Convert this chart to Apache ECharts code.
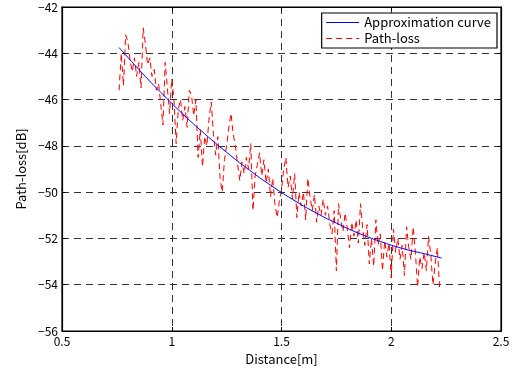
<!DOCTYPE html>
<html>
<head>
<meta charset="utf-8">
<script src="https://cdn.jsdelivr.net/npm/echarts@6/dist/echarts.min.js"></script>
<style>html,body{margin:0;padding:0;background:#fff}#c{width:516px;height:377px}</style>
</head>
<body>
<div id="c"></div>
<script>
// Approximation curve
const curveDist = [0.76,0.85,0.95,1.05,1.15,1.25,1.35,1.45,1.55,1.65,1.75,1.85,1.95,2.05,2.15,2.23];
const curveVal  = [-43.75,-44.70,-45.69,-46.62,-47.48,-48.28,-49.02,-49.70,-50.31,-50.86,-51.34,-51.77,-52.13,-52.43,-52.66,-52.85];

const lossDist = [0.76,0.77,0.78,0.79,0.80,0.81,0.82,0.83,0.84,0.85,0.86,0.87,0.88,0.89,0.90,0.91,0.92,0.93,0.94,0.95,0.96,0.97,0.98,0.99,
1.00,1.01,1.02,1.03,1.04,1.05,1.06,1.07,1.08,1.09,1.10,1.11,1.12,1.13,1.14,1.15,1.16,1.17,1.18,1.19,1.20,1.21,1.22,1.23,1.24,1.25,1.26,1.27,1.28,1.29,
1.30,1.31,1.32,1.33,1.34,1.35,1.36,1.37,1.38,1.39,1.40,1.41,1.42,1.43,1.44,1.45,1.46,1.47,1.48,1.49,1.50,
1.51,1.52,1.53,1.54,1.55,1.56,1.57,1.58,1.59,1.60,1.61,1.62,1.63,1.64,1.65,1.66,1.67,1.68,1.69,1.70,1.71,1.72,1.73,1.74,1.75,1.76,1.77,1.78,1.79,1.80,
1.81,1.82,1.83,1.84,1.85,1.86,1.87,1.88,1.89,1.90,1.91,1.92,1.93,1.94,1.95,1.96,1.97,1.98,1.99,2.00,
2.01,2.02,2.03,2.04,2.05,2.06,2.07,2.08,2.09,2.10,2.11,2.12,2.13,2.14,2.15,2.16,2.17,2.18,2.19,2.20,2.21,2.22,2.23];
const lossVal = [-45.6,-44.0,-45.4,-43.2,-43.5,-44.3,-44.8,-44.2,-45.0,-44.4,-45.5,-42.9,-43.6,-44.5,-44.2,-45.0,-44.7,-45.6,-45.3,-46.2,-47.1,-44.4,-45.5,-46.6,
-45.1,-46.0,-47.9,-46.4,-46.0,-46.9,-46.3,-47.2,-45.6,-45.8,-46.7,-46.0,-48.5,-47.3,-48.9,-47.6,-48.0,-46.8,-46.1,-47.5,-48.4,-47.6,-49.4,-50.0,-48.6,-48.0,-47.2,-46.6,-47.5,-48.0,
-48.8,-49.5,-48.7,-49.2,-48.5,-49.0,-47.9,-50.8,-49.3,-48.8,-48.3,-49.3,-48.6,-49.6,-49.0,-50.2,-49.4,-50.5,-51.1,-50.4,-49.9,
-49.0,-48.5,-49.8,-49.3,-50.3,-49.2,-51.1,-50.0,-50.6,-50.0,-51.2,-49.4,-50.2,-50.8,-50.1,-51.3,-50.6,-51.0,-50.3,-51.0,-50.6,-51.4,-51.8,-50.8,-53.4,-50.5,-51.2,-51.7,-50.9,-51.6,
-52.4,-51.3,-51.9,-51.2,-52.2,-50.5,-51.6,-52.3,-51.4,-53.1,-52.0,-53.2,-51.2,-52.3,-51.8,-53.4,-52.1,-52.8,-52.2,-53.7,
-51.6,-52.6,-52.0,-52.9,-52.3,-53.6,-51.5,-52.4,-52.9,-51.5,-52.6,-54.1,-52.8,-53.3,-52.6,-53.4,-51.9,-52.7,-54.0,-53.1,-52.4,-54.1,-54.2];

const xTicks = [0.5, 1, 1.5, 2, 2.5];
const yTicks = [-56, -54, -52, -50, -48, -46, -44, -42];

const FONT = '"Noto Sans CJK JP", "Noto Sans", sans-serif';
const fmtNeg = v => String(v).replace('-', '\u2212');
const gridLine = {show: true, lineStyle: {color: '#333', type: [7, 5], width: 1}};

const chart = echarts.init(document.getElementById('c'), null, {renderer: 'canvas'});
chart.setOption({
  animation: false,
  backgroundColor: '#fff',
  textStyle: {fontFamily: FONT},
  grid: {left: 62, right: 15, top: 7, bottom: 46, show: true, borderColor: '#000', borderWidth: 1.2},
  legend: {
    show: true,
    orient: 'vertical', right: 19, top: 13,
    backgroundColor: '#fff', borderColor: '#000', borderWidth: 1.2,
    padding: [3, 6, 3, 4], itemGap: 3, itemWidth: 33, itemHeight: 16,
    itemStyle: {opacity: 0},
    lineStyle: {width: 1},
    textStyle: {fontFamily: FONT, fontSize: 13, color: '#000'},
    data: ['Approximation curve', 'Path-loss']
  },
  xAxis: [{
    type: 'value', min: xTicks[0], max: xTicks[xTicks.length - 1], interval: 0.5,
    name: 'Distance[m]', nameLocation: 'middle', nameGap: 22,
    nameTextStyle: {fontFamily: FONT, fontSize: 13, color: '#000'},
    axisLine: {show: true, onZero: false, lineStyle: {color: '#000', width: 1.2}},
    axisTick: {show: true, inside: true, length: 4, lineStyle: {color: '#000'}},
    axisLabel: {fontFamily: FONT, fontSize: 12, color: '#000', margin: 4},
    splitLine: gridLine
  }, {
    type: 'value', position: 'top', min: xTicks[0], max: xTicks[xTicks.length - 1], interval: 0.5,
    axisLine: {show: true, lineStyle: {color: '#000', width: 1.2}},
    axisTick: {show: true, inside: true, length: 4, lineStyle: {color: '#000'}},
    axisLabel: {show: false}, splitLine: {show: false}
  }],
  yAxis: [{
    type: 'value', min: yTicks[0], max: yTicks[yTicks.length - 1], interval: 2,
    name: 'Path-loss[dB]', nameLocation: 'middle', nameGap: 34, nameRotate: 90,
    nameTextStyle: {fontFamily: FONT, fontSize: 13, color: '#000'},
    axisLine: {show: true, onZero: false, lineStyle: {color: '#000', width: 1.2}},
    axisTick: {show: true, inside: true, length: 4, lineStyle: {color: '#000'}},
    axisLabel: {fontFamily: FONT, fontSize: 12, color: '#000', margin: 4, formatter: fmtNeg},
    splitLine: gridLine
  }, {
    type: 'value', position: 'right', min: yTicks[0], max: yTicks[yTicks.length - 1], interval: 2,
    axisLine: {show: true, lineStyle: {color: '#000', width: 1.2}},
    axisTick: {show: true, inside: true, length: 4, lineStyle: {color: '#000'}},
    axisLabel: {show: false}, splitLine: {show: false}
  }],
  series: [{
    name: 'Approximation curve', type: 'line', smooth: true, symbol: 'none', z: 3,
    xAxisIndex: 0, yAxisIndex: 0,
    data: curveDist.map((d, i) => [d, curveVal[i]]),
    lineStyle: {color: '#0000ff', width: 1},
    itemStyle: {color: '#0000ff'}
  }, {
    name: 'Path-loss', type: 'line', symbol: 'none', z: 2,
    xAxisIndex: 0, yAxisIndex: 0,
    data: lossDist.map((d, i) => [d, lossVal[i]]),
    lineStyle: {color: '#ff0000', width: 1, type: [6, 4]},
    itemStyle: {color: '#ff0000'}
  }]
});
</script>
</body>
</html>
